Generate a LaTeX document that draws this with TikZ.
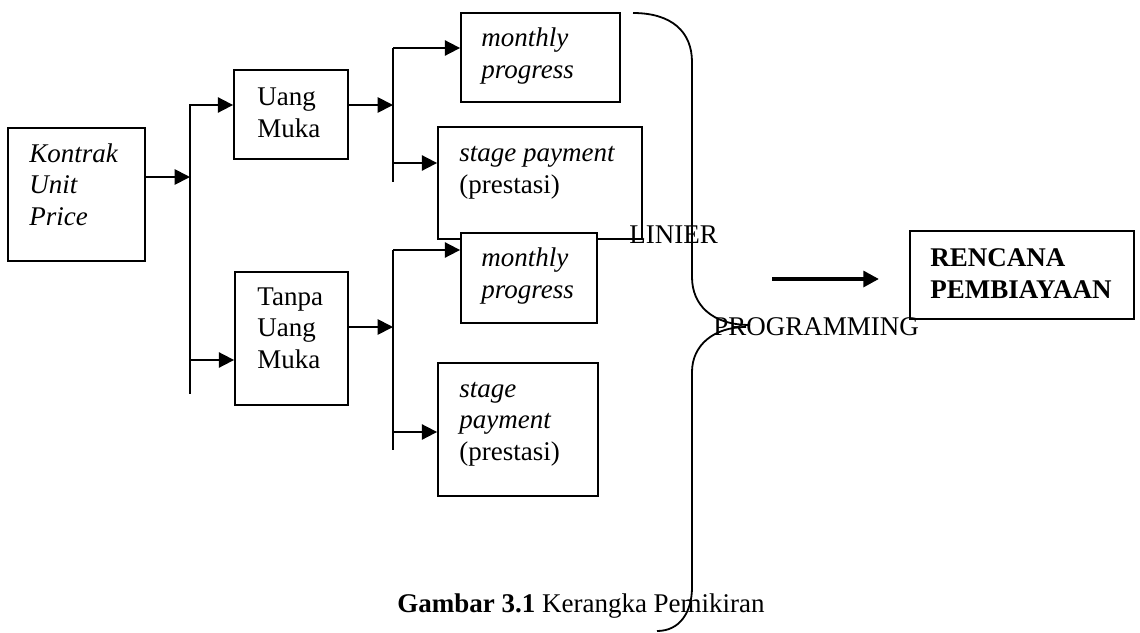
\documentclass[tikz,border=0pt]{standalone}
\usepackage{fontspec}
\setmainfont{Liberation Serif}
\usetikzlibrary{arrows.meta}
\newcommand{\pxu}{0.4444pt}
\tikzset{
	box/.style 2 args={draw, fill=white, line width=.8pt, inner sep=0pt, minimum width=#1*\pxu, minimum height=#2*\pxu},
	txt/.style={anchor=base west, inner sep=0pt, align=left, font=\fontsize{12}{13.8}\selectfont},
	arr/.style={line width=.8pt, -{Triangle[length=6.8pt, width=6.8pt]}},
}
\begin{document}
\begin{tikzpicture}[x=0.4444pt, y=-0.4444pt]
		\useasboundingbox (0,0) rectangle (1140,632);
		
		\node[box={137}{133}] (K) at (76.5,194.5) {};
		\node[box={114}{89}] (U) at (291,114.5) {};
		\node[box={113}{133}] (T) at (291.5,338.5) {};
		\node[box={159}{89}] (M1) at (540.5,57.5) {};
		\node[box={204}{112}] (S1) at (540,183) {};
		\node[box={136}{90}] (M2) at (529,278) {};
		\node[box={160}{133}] (S2) at (518,429.5) {};
		\node[box={224}{88}] (R) at (1022,275) {};
		
		% base = last line
		\node[txt] (k) at (29,225) {\itshape Kontrak\\\itshape Unit\\\itshape Price};
		\node[txt] (u) at (257,137) {Uang\\Muka};
		\node[txt] (t) at (257,368) {Tanpa\\Uang\\Muka};
		\node[txt] (m1) at (481,78) {\itshape monthly\\\itshape progress};
		\node[txt] (s1) at (459,193) {\itshape stage payment\\(prestasi)};
		\node[txt] (m2) at (481,298) {\itshape monthly\\\itshape progress};
		\node[txt] (s2) at (459,460) {\itshape stage\\\itshape payment\\(prestasi)};
		\node[txt] (r) at (930,298) {\bfseries RENCANA\\\bfseries PEMBIAYAAN};
		
		% bus lines
		\coordinate (a) at (190,177);
		\coordinate (b) at (393,105);
		\coordinate (c) at (393,327);
		\draw[line width=.8pt] (190,104) -- (190,394);
		\draw[line width=.8pt] (393,48) -- (393,182);
		\draw[line width=.8pt] (393,250) -- (393,450);
		
		\draw[arr] (a -| K.east) -- (a);
		\draw[arr] (190,105) -- (190,105 -| U.west);
		\draw[arr] (190,360) -- (190,360 -| T.west);
		\draw[arr] (b -| U.east) -- (b);
		\draw[arr] (393,48) -- (393,48 -| M1.west);
		\draw[arr] (393,163) -- (393,163 -| S1.west);
		\draw[arr] (c -| T.east) -- (c);
		\draw[arr] (393,250) -- (393,250 -| M2.west);
		\draw[arr] (393,432) -- (393,432 -| S2.west);
		
		% brace
		\draw[line width=.8pt] (633,13) .. controls (672,13) and (692,32) .. (692,62) -- (692,277)
			.. controls (692,305) and (712,325) .. (750,325);
		\draw[line width=.8pt] (746,327) .. controls (714,327) and (692,345) .. (692,372) -- (692,587)
			.. controls (692,612) and (680,631) .. (657,631);
		\node[txt] (l) at (629,243) {LINIER};
		\node[txt] (p) at (713,335) {PROGRAMMING};
		
		\coordinate (e) at (772,279);
		\coordinate (f) at (879,279);
		\draw[line width=2.1pt, -{Triangle[length=7pt, width=7pt]}] (e) -- (f);
		
		\node[txt, anchor=base] (g) at (581,612) {\textbf{Gambar 3.1} Kerangka Pemikiran};
	\end{tikzpicture}
\end{document}
